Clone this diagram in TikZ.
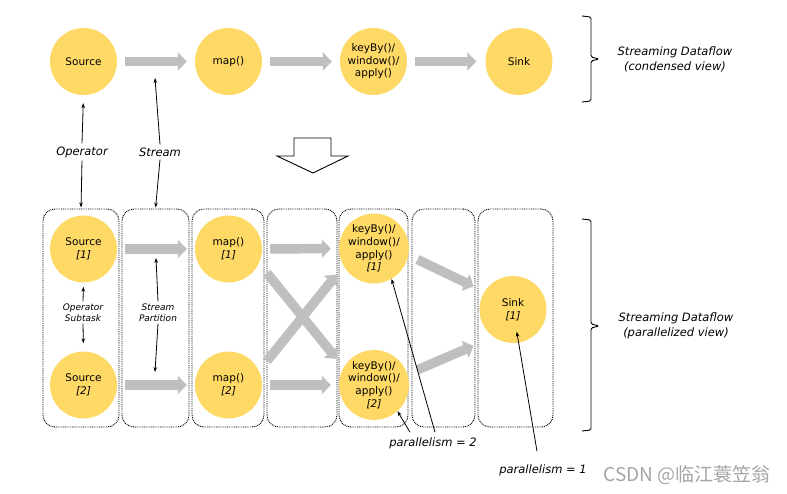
\documentclass[tikz,border=0pt]{standalone}
\usepackage{fontspec}
\setmainfont{DejaVu Sans}
\newfontfamily\cjkfont{Noto Sans CJK SC}
\usetikzlibrary{arrows.meta}
\definecolor{opyellow}{RGB}{255,217,102}
\definecolor{flowgray}{RGB}{191,191,191}
\definecolor{wmgray}{RGB}{165,165,165}
\tikzset{
  opnode/.style={circle, fill=opyellow, minimum size=67pt, inner sep=0pt, align=center, font=\fontsize{10.5}{12.6}\selectfont},
  taskbox/.style={draw=black, line width=0.9pt, dash pattern=on 0.9pt off 0.9pt, rounded corners=12pt, minimum height=218pt, inner sep=0pt},
  flow/.style={draw=flowgray, line width=9.5pt, -{Triangle[length=9pt,width=18pt]}},
  pointer/.style={draw=black, line width=0.8pt, -{Stealth[length=5pt,width=3.6pt]}},
  biglabel/.style={font=\fontsize{11.5}{15}\selectfont\itshape, align=center, inner sep=3pt},
  smalllabel/.style={font=\fontsize{9}{11}\selectfont\itshape, align=center, inner sep=2pt},
}
\begin{document}
\begin{tikzpicture}[x=1pt, y=-1pt]
\useasboundingbox (0,0) rectangle (787,494);
\fill[white] (0,0) rectangle (787,494);

% ---------- condensed view ----------
\node[opnode] (src) at (83.5,61.5) {Source};
\node[opnode] (map) at (228.5,61.5) {map()};
\node[opnode] (kbw) at (373.5,61.5) {keyBy()/\\window()/\\apply()};
\node[opnode] (snk) at (519,61.5) {Sink};
\draw[flow, shorten <=7.5pt, shorten >=8pt] (src) -- (map);
\draw[flow, shorten <=8pt, shorten >=8pt] (map) -- (kbw);
\draw[flow, shorten <=8pt, shorten >=9pt] (kbw) -- (snk);

\draw[line width=0.9pt, rounded corners=1.5pt] (582,16) -- (591,17) -- (591,57) -- (599,59) -- (591,61) -- (591,101) -- (582,102);
\node[biglabel] (cond) at (675,59.5) {Streaming Dataflow\\(condensed view)};

% ---------- hollow down arrow ----------
\draw[line width=0.9pt, line join=miter] (294,138) -- (331,138) -- (331,156) -- (348,156) -- (313,173) -- (277,156) -- (294,156) -- cycle;

% ---------- parallel view boxes ----------
\node[taskbox, minimum width=76pt] (b1) at (81,318) {};
\node[taskbox, minimum width=67pt] (b2) at (155.5,318) {};
\node[taskbox, minimum width=72pt] (b3) at (228,318) {};
\node[taskbox, minimum width=70pt] (b4) at (302,318) {};
\node[taskbox, minimum width=69pt] (b5) at (373.5,318) {};
\node[taskbox, minimum width=63pt] (b6) at (443.5,318) {};
\node[taskbox, minimum width=75pt] (b7) at (515.5,318) {};

\node[opnode] (srcA) at (83.5,249) {Source\\\textit{[1]}};
\node[opnode] (srcB) at (83.5,385) {Source\\\textit{[2]}};
\node[opnode] (mapA) at (228.5,249) {map()\\\textit{[1]}};
\node[opnode] (mapB) at (228.5,385) {map()\\\textit{[2]}};
\node[opnode] (kbwA) at (374,248.5) {keyBy()/\\window()/\\apply()\\\textit{[1]}};
\node[opnode] (kbwB) at (374,385) {keyBy()/\\window()/\\apply()\\\textit{[2]}};
\node[opnode] (snkA) at (513,309.5) {Sink\\\textit{[1]}};

\draw[flow, shorten <=7.5pt, shorten >=8pt] (srcA) -- (mapA);
\draw[flow, shorten <=7.5pt, shorten >=8pt] (srcB) -- (mapB);
\draw[flow, shorten <=8pt, shorten >=8pt] (mapA) -- (kbwA);
\draw[flow, shorten <=8pt, shorten >=8pt] (mapB) -- (kbwB);
\draw[flow, shorten <=12.5pt, shorten >=11pt] (mapA.-25) -- (kbwB.150);
\draw[flow, shorten <=12.5pt, shorten >=11pt] (mapB.25) -- (kbwA.-150);
\draw[flow, shorten <=10pt, shorten >=12pt] (kbwA.-11) -- (snkA.148);
\draw[flow, shorten <=11pt, shorten >=22pt] (kbwB.18) -- (snkA.-125);

\draw[line width=0.9pt, rounded corners=1.5pt] (582,219) -- (591,220) -- (591,324) -- (599,326) -- (591,328) -- (591,430) -- (582,431);
\node[biglabel] (par) at (676,325.5) {Streaming Dataflow\\(parallelized view)};

% ---------- labels and pointers ----------
\node[biglabel] (oplab) at (82,152) {Operator};
\node[biglabel] (stlab) at (160,152) {Stream};
\coordinate (sttop) at (155,78);
\draw[pointer, shorten >=8pt] (oplab.north) -- (src.south);
\draw[pointer, shorten >=1pt] (oplab.south) -- (b1.north);
\draw[pointer] (stlab.north) -- (sttop);
\draw[pointer, shorten >=1pt] (stlab.south) -- (b2.north);

\node[smalllabel] (subtask) at (83,312.5) {Operator\\Subtask};
\node[smalllabel] (partlab) at (158,312.5) {Stream\\Partition};
\coordinate (parttop) at (156,258);
\coordinate (partbot) at (155,372);
\draw[pointer, shorten >=4pt] (subtask.north) -- (srcA.south);
\draw[pointer, shorten >=8pt] (subtask.south) -- (srcB.north);
\draw[pointer] (partlab.north) -- (parttop);
\draw[pointer] (partlab.south) -- (partbot);

\node[biglabel, inner sep=0pt] (p2) at (433,443) {parallelism = 2};
\node[biglabel, inner sep=0pt] (p1) at (543,470) {parallelism = 1};
\draw[pointer] ([xshift=-23pt,yshift=5pt]p2.north) -- (kbwB.-48);
\draw[pointer] ([xshift=2pt,yshift=5pt]p2.north) -- (kbwA.-60);
\draw[pointer, shorten >=22.5pt] ([xshift=-6pt,yshift=13pt]p1.north) -- (snkA.center);

% ---------- watermark ----------
\node[text=wmgray, font=\cjkfont\fontsize{19}{22}\selectfont, inner sep=0pt] (wm) at (687,475) {CSDN @临江蓑笠翁};
\end{tikzpicture}
\end{document}
